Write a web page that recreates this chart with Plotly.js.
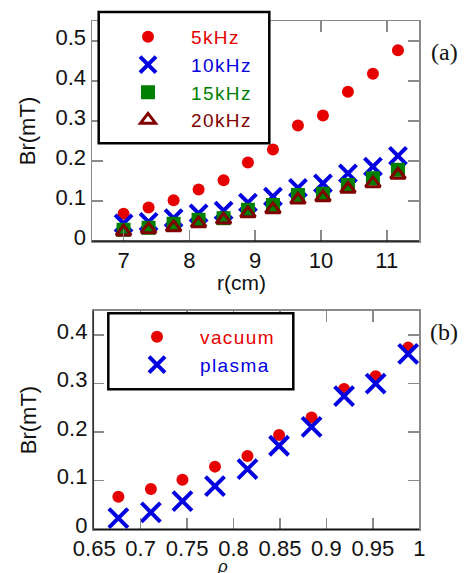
<!DOCTYPE html>
<html><head><meta charset="utf-8">
<script src="https://cdn.plot.ly/plotly-3.0.1.min.js"></script>
<style>html,body{margin:0;padding:0;background:#fff}#chart{width:465px;height:573px}</style>
</head><body><div id="chart"></div>
<script>
// Panel (a): Br vs r for several frequencies
const rCm   = [7.0, 7.38, 7.76, 8.14, 8.52, 8.89, 9.27, 9.65, 10.03, 10.41, 10.79, 11.17];
const br5k  = [0.068, 0.084, 0.102, 0.129, 0.152, 0.196, 0.229, 0.289, 0.314, 0.373, 0.418, 0.477];
const br10k = [0.044, 0.048, 0.057, 0.069, 0.076, 0.096, 0.111, 0.133, 0.144, 0.169, 0.186, 0.213];
const br15k = [0.028, 0.033, 0.043, 0.053, 0.057, 0.078, 0.090, 0.115, 0.118, 0.140, 0.157, 0.178];
const br20k = [0.023, 0.029, 0.034, 0.044, 0.053, 0.069, 0.079, 0.103, 0.109, 0.130, 0.144, 0.165];
const namesA = ['5kHz', '10kHz', '15kHz', '20kHz'];
const xTicksA = [7, 8, 9, 10, 11];
const ticksA = [0, 0.1, 0.2, 0.3, 0.4, 0.5];
const ticksALabels = ['0', '0.1', '0.2', '0.3', '0.4', '0.5'];
// Panel (b): Br vs rho, vacuum / plasma
const rho      = [0.676, 0.711, 0.745, 0.780, 0.815, 0.849, 0.884, 0.919, 0.953, 0.988];
const brVacuum = [0.067, 0.083, 0.102, 0.129, 0.151, 0.194, 0.230, 0.289, 0.315, 0.374];
const brPlasma = [0.023, 0.035, 0.058, 0.089, 0.124, 0.172, 0.211, 0.274, 0.300, 0.361];
const namesB = ['vacuum', 'plasma'];
const ticksB = [0, 0.1, 0.2, 0.3, 0.4];
const ticksBLabels = ['0', '0.1', '0.2', '0.3', '0.4'];
const xTicksB = [0.65, 0.7, 0.75, 0.8, 0.85, 0.9, 0.95, 1];
const xTicksBLabels = ['0.65', '0.7', '0.75', '0.8', '0.85', '0.9', '0.95', '1'];

const RED = '#e60000', BLUE = '#0000e0', GREEN = '#008000', BROWN = '#800000';
const FONT = 'Liberation Sans, Arial, sans-serif';
const SERIF = 'Liberation Serif, Times New Roman, serif';
const lbl = (t, c) => '<span style="color:' + c + ';letter-spacing:1.4px">' + t + '</span>';

const traces = [
  {x: rCm, y: br5k, name: lbl(namesA[0], RED), mode: 'markers', legend: 'legend',
   marker: {symbol: 'circle', size: 12, color: RED}},
  {x: rCm, y: br10k, name: lbl(namesA[1], BLUE), mode: 'markers', legend: 'legend',
   marker: {symbol: 'x-thin-open', size: 17, color: BLUE, line: {color: BLUE, width: 4}}},
  {x: rCm, y: br15k, name: lbl(namesA[2], GREEN), mode: 'markers', legend: 'legend',
   marker: {symbol: 'square', size: 14, color: GREEN}},
  {x: rCm, y: br20k, name: lbl(namesA[3], BROWN), mode: 'markers', legend: 'legend',
   marker: {symbol: 'triangle-up-open', size: 13, color: BROWN, line: {color: BROWN, width: 3}}},
  {x: rho, y: brVacuum, name: lbl(namesB[0], RED), mode: 'markers', xaxis: 'x2', yaxis: 'y2', legend: 'legend2',
   marker: {symbol: 'circle', size: 12, color: RED}},
  {x: rho, y: brPlasma, name: lbl(namesB[1], BLUE), mode: 'markers', xaxis: 'x2', yaxis: 'y2', legend: 'legend2',
   marker: {symbol: 'x-thin-open', size: 19, color: BLUE, line: {color: BLUE, width: 4}}}
];

const axisCommon = {
  showgrid: false, zeroline: false, showline: true, linecolor: '#8a8a8a', linewidth: 1.5,
  mirror: 'ticks', ticks: 'inside', ticklen: 11, tickwidth: 1.5, tickcolor: '#8a8a8a',
  tickfont: {family: FONT, size: 22, color: '#111'}
};

const H = 573, W = 465;
const px = v => v / W, py = v => 1 - v / H;

const layout = {
  width: W, height: H, margin: {l: 0, r: 0, t: 0, b: 0},
  paper_bgcolor: '#fff', plot_bgcolor: '#fff', showlegend: true,
  font: {family: FONT, size: 19, color: '#111'},
  xaxis: Object.assign({}, axisCommon, {domain: [px(92), px(419)], range: [6.52, 11.49],
    tickvals: xTicksA, anchor: 'y', ticklabelstandoff: -1}),
  yaxis: Object.assign({}, axisCommon, {domain: [py(241), py(21)], range: [0, 0.55],
    tickvals: ticksA, ticktext: ticksALabels, anchor: 'x', ticklabelshift: -4,
    title: {text: 'Br(mT)', font: {family: FONT, size: 22, color: '#111'}, standoff: 14}}),
  xaxis2: Object.assign({}, axisCommon, {domain: [px(93.3), px(419.3)], range: [0.649, 1.0],
    tickvals: xTicksB, ticktext: xTicksBLabels, anchor: 'y2', ticklabelstandoff: -1}),
  yaxis2: Object.assign({}, axisCommon, {domain: [py(529.3), py(310.7)], range: [0, 0.45],
    tickvals: ticksB, ticktext: ticksBLabels, anchor: 'x2', ticklabelshift: -4,
    title: {text: 'Br(mT)', font: {family: FONT, size: 22, color: '#111'}, standoff: 14}}),
  legend: {x: px(105), y: py(18), xanchor: 'left', yanchor: 'top', bgcolor: 'rgba(0,0,0,0)',
    borderwidth: 0, itemwidth: 76, font: {family: FONT, size: 19}, tracegroupgap: 0},
  legend2: {x: px(114), y: py(318), xanchor: 'left', yanchor: 'top', bgcolor: 'rgba(0,0,0,0)',
    borderwidth: 0, itemwidth: 76, font: {family: FONT, size: 19}, tracegroupgap: 0},
  shapes: [
    {type: 'rect', xref: 'paper', yref: 'paper', x0: px(98.7), x1: px(269.3), y0: py(143.3), y1: py(12),
     line: {color: '#000', width: 2.5}, fillcolor: '#fff', layer: 'above'},
    {type: 'rect', xref: 'paper', yref: 'paper', x0: px(108.3), x1: px(293.3), y0: py(389.3), y1: py(313.3),
     line: {color: '#000', width: 2.5}, fillcolor: '#fff', layer: 'above'},
    {type: 'line', xref: 'x domain', yref: 'y domain', x0: 0, x1: 1, y0: 0, y1: 0, line: {color: '#111', width: 1.5}},
    {type: 'line', xref: 'x2 domain', yref: 'y2 domain', x0: 0, x1: 1, y0: 0, y1: 0, line: {color: '#111', width: 1.5}},
    {type: 'line', xref: 'x2 domain', yref: 'y2 domain', x0: 0, x1: 0, y0: 0, y1: 1, line: {color: '#333', width: 1.5}}
  ],
  annotations: [
    {text: 'r(cm)', xref: 'paper', yref: 'paper', x: px(242), y: py(283), xanchor: 'center', yanchor: 'middle',
     showarrow: false, font: {family: FONT, size: 21, color: '#111'}},
    {text: '<i>ρ</i>', xref: 'paper', yref: 'paper', x: px(222), y: py(566), xanchor: 'center', yanchor: 'middle',
     showarrow: false, font: {family: FONT, size: 17, color: '#111'}},
    {text: '(a)', xref: 'paper', yref: 'paper', x: px(444), y: py(52), xanchor: 'center', yanchor: 'middle',
     showarrow: false, font: {family: SERIF, size: 24, color: '#111'}},
    {text: '(b)', xref: 'paper', yref: 'paper', x: px(444), y: py(332), xanchor: 'center', yanchor: 'middle',
     showarrow: false, font: {family: SERIF, size: 24, color: '#111'}}
  ]
};

Plotly.newPlot('chart', traces, layout, {displayModeBar: false, staticPlot: true});
</script>
</body></html>
